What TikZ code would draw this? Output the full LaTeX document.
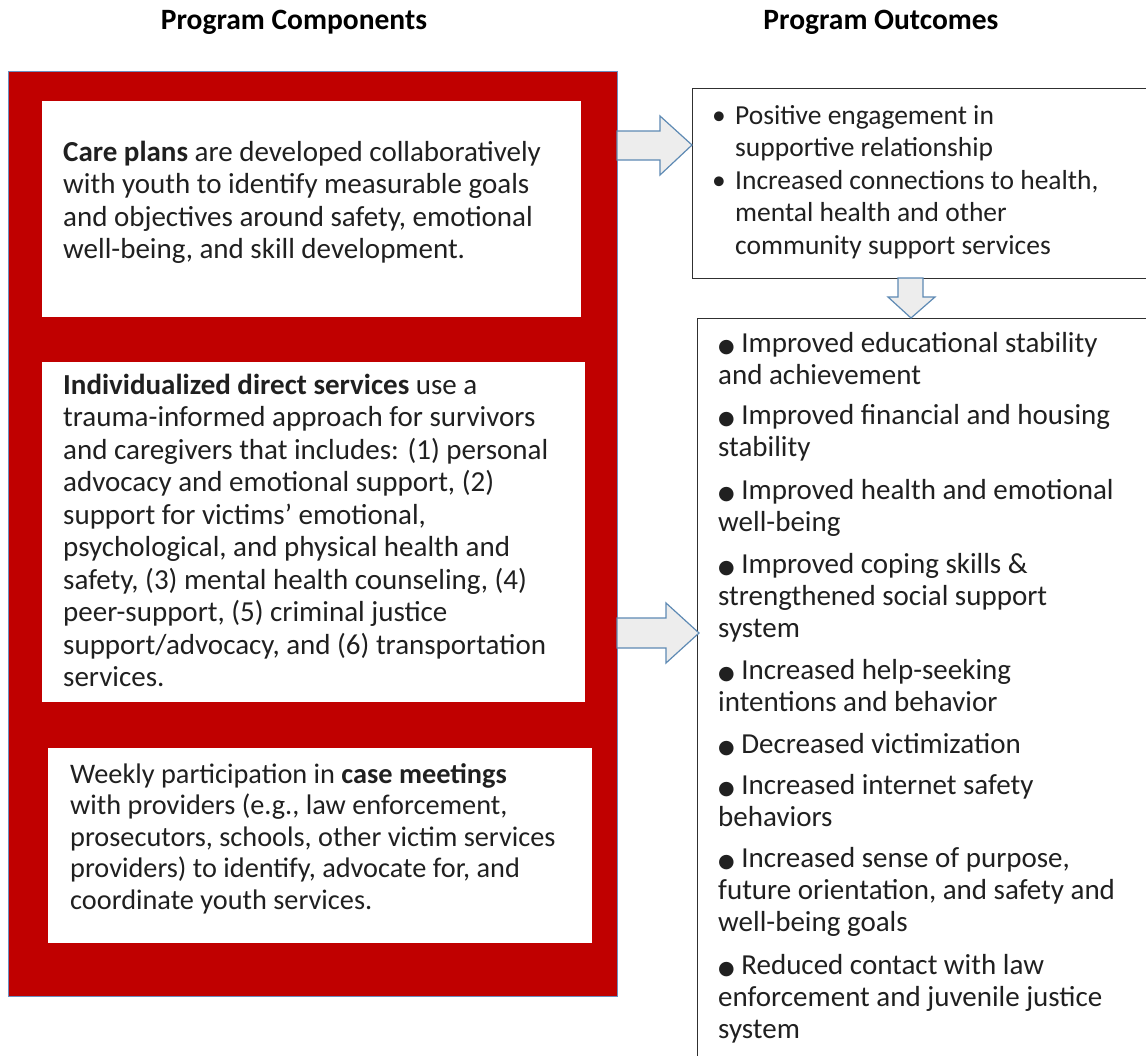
\documentclass[tikz,border=0pt]{standalone}
\usepackage{fontspec}
\setmainfont{Carlito}
\newfontfamily\symfont{DejaVu Sans}
\definecolor{redfill}{HTML}{C00000}
\definecolor{panelblue}{HTML}{6C8EBF}
\definecolor{arrowblue}{HTML}{5E8AB4}
\definecolor{arrowfill}{HTML}{EDEDED}
\definecolor{textcol}{HTML}{202020}
\definecolor{outline}{HTML}{303030}
\newcommand{\pbox}[2]{\parbox[t]{#1}{\raggedright #2}}
\newcommand{\bul}{{\symfont\fontsize{19}{19}\selectfont\raisebox{0pt}{●}}}
\begin{document}
\begin{tikzpicture}[x=1pt,y=-1pt,
  redpanel/.style={draw=panelblue, line width=1.2pt, fill=redfill, anchor=north west, inner sep=0pt},
  whitebox/.style={fill=white, draw=none, anchor=north west, inner sep=0pt},
  outbox/.style={draw=outline, line width=1.3pt, fill=white, anchor=north west, inner sep=0pt},
  blockarrow/.style={draw=arrowblue, fill=arrowfill, line width=1.2pt, line join=miter},
  txt/.style={anchor=base west, inner sep=0pt, text=textcol, font=\fontsize{29}{32.5}\selectfont},
  otxt/.style={anchor=base west, inner sep=0pt, text=textcol, font=\fontsize{29}{32}\selectfont},
  head/.style={anchor=base, inner sep=0pt, text=black, font=\fontsize{29.5}{32}\selectfont\bfseries}]
\useasboundingbox[fill=white] (0,0) rectangle (1146,1055);

% headers
\node[head] (h1) at (294,29) {Program Components};
\node[head] (h2) at (881,29) {Program Outcomes};

% left red panel and white boxes
\node[redpanel, minimum width=609pt, minimum height=925pt] (panel) at (8,71) {};
\node[whitebox, minimum width=539pt, minimum height=216pt] (b1) at (42,101) {};
\node[whitebox, minimum width=543pt, minimum height=340pt] (b2) at (42,362) {};
\node[whitebox, minimum width=544pt, minimum height=195pt] (b3) at (48,748) {};

% outcome boxes
\node[outbox, minimum width=480pt, minimum height=190pt] (o1) at (692,88) {};
\node[outbox, minimum width=480pt, minimum height=760pt] (o2) at (697,318) {};

% block arrows
\draw[blockarrow] (617,131) -- (660,131) -- (660,116) -- (692,145) -- (660,175) -- (660,160) -- (617,160) -- cycle;
\draw[blockarrow] (617,618) -- (666,618) -- (666,603) -- (699,633) -- (666,663) -- (666,648) -- (617,648) -- cycle;
\draw[blockarrow] (898,278) -- (923,278) -- (923,297) -- (935,297) -- (911,318) -- (888,297) -- (898,297) -- cycle;

% left texts
\node[txt] (t1) at (63,161) {\pbox{560pt}{\textbf{Care plans} are developed collaboratively\\
with youth to identify measurable goals\\
and objectives around safety, emotional\\
well-being, and skill development.}};

\node[txt] (t2) at (63,394) {\pbox{560pt}{\textbf{Individualized direct services} use a\\
trauma-informed approach for survivors\\
and caregivers that includes: (1) personal\\
advocacy and emotional support, (2)\\
support for victims’ emotional,\\
psychological, and physical health and\\
safety, (3) mental health counseling, (4)\\
peer-support, (5) criminal justice\\
support/advocacy, and (6) transportation\\
services.}};

\node[txt, font=\fontsize{28.3}{31.5}\selectfont] (t3) at (70,783) {\pbox{560pt}{Weekly participation in \textbf{case meetings}\\
with providers (e.g., law enforcement,\\
prosecutors, schools, other victim services\\
providers) to identify, advocate for, and\\
coordinate youth services.}};

% outcome box 1
\node[txt, font=\fontsize{27.5}{32.5}\selectfont] (ob1) at (712,124) {•};
\node[txt, font=\fontsize{27.5}{32.5}\selectfont] (oa1) at (735,124) {\pbox{440pt}{Positive engagement in\\supportive relationship}};
\node[txt, font=\fontsize{27.5}{32.5}\selectfont] (ob2) at (712,189) {•};
\node[txt, font=\fontsize{27.5}{32.5}\selectfont] (oa2) at (735,189) {\pbox{440pt}{Increased connections to health,\\mental health and other\\community support services}};

% outcome box 2
\node[otxt] (p1) at (718,352) {\pbox{440pt}{\bul\ Improved educational stability\\and achievement}};
\node[otxt] (p2) at (718,424) {\pbox{440pt}{\bul\ Improved financial and housing\\stability}};
\node[otxt] (p3) at (718,499) {\pbox{440pt}{\bul\ Improved health and emotional\\well-being}};
\node[otxt] (p4) at (718,573) {\pbox{440pt}{\bul\ Improved coping skills \&\\strengthened social support\\system}};
\node[otxt] (p5) at (718,679) {\pbox{440pt}{\bul\ Increased help-seeking\\intentions and behavior}};
\node[otxt] (p6) at (718,753) {\pbox{440pt}{\bul\ Decreased victimization}};
\node[otxt] (p7) at (718,794) {\pbox{440pt}{\bul\ Increased internet safety\\behaviors}};
\node[otxt] (p8) at (718,867) {\pbox{440pt}{\bul\ Increased sense of purpose,\\future orientation, and safety and\\well-being goals}};
\node[otxt] (p9) at (718,974) {\pbox{440pt}{\bul\ Reduced contact with law\\enforcement and juvenile justice\\system}};
\end{tikzpicture}
\end{document}
